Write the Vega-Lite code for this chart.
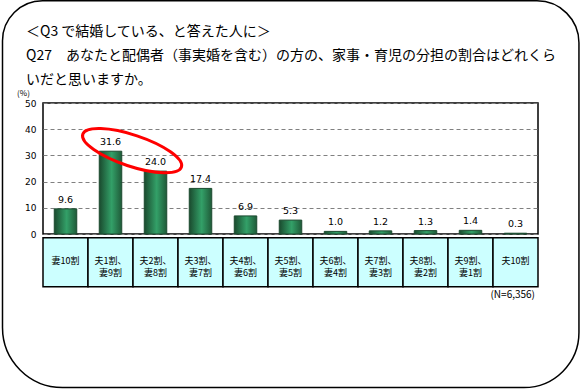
{
  "$schema": "https://vega.github.io/schema/vega-lite/v6.json",
  "width": 495,
  "height": 131,
  "padding": {"left": 1, "top": 0, "right": 2, "bottom": 2},
  "background": "white",
  "config": {
    "view": {"stroke": "black", "strokeWidth": 1.5},
    "font": "Noto Sans CJK JP"
  },
  "title": {
    "text": ["＜Q3 で結婚している、と答えた人に＞", "Q27　あなたと配偶者（事実婚を含む）の方の、家事・育児の分担の割合はどれくら", "いだと思いますか。"],
    "anchor": "start",
    "frame": "group",
    "dx": -17,
    "fontSize": 14,
    "fontWeight": "normal",
    "font": "Noto Sans CJK JP",
    "lineHeight": 24,
    "offset": -87,
    "color": "black"
  },
  "resolve": {"scale": {"x": "independent", "y": "independent"}},
  "layer": [
    {
      "data": {"values": [{}]},
      "mark": {"type": "rect", "filled": false, "stroke": "black", "strokeWidth": 1.5, "cornerRadiusTopLeft": 40, "cornerRadiusTopRight": 42, "cornerRadiusBottomLeft": 60, "cornerRadiusBottomRight": 55},
      "encoding": {
        "x": {"datum": -0.9, "type": "quantitative", "scale": {"domain": [0, 11], "nice": false, "zero": false}, "axis": null},
        "x2": {"datum": 11.91},
        "y": {"datum": 89, "type": "quantitative", "scale": {"domain": [0, 50], "nice": false, "zero": false}, "axis": null},
        "y2": {"datum": -58.6}
      }
    },
    {
      "data": {"values": [
        {"cat": "妻10割", "v": 9.6},
        {"cat": "夫1割、\n妻9割", "v": 31.6},
        {"cat": "夫2割、\n妻8割", "v": 24.0},
        {"cat": "夫3割、\n妻7割", "v": 17.4},
        {"cat": "夫4割、\n妻6割", "v": 6.9},
        {"cat": "夫5割、\n妻5割", "v": 5.3},
        {"cat": "夫6割、\n妻4割", "v": 1.0},
        {"cat": "夫7割、\n妻3割", "v": 1.2},
        {"cat": "夫8割、\n妻2割", "v": 1.3},
        {"cat": "夫9割、\n妻1割", "v": 1.4},
        {"cat": "夫10割", "v": 0.3}
      ]},
      "layer": [
        {
          "mark": {
            "type": "bar",
            "width": {"band": 0.5},
            "stroke": "#1b4a2f",
            "strokeWidth": 1,
            "color": {"gradient": "linear", "x1": 0, "x2": 1, "y1": 0, "y2": 0, "stops": [
              {"offset": 0, "color": "#1a4a2e"},
              {"offset": 0.55, "color": "#33a068"},
              {"offset": 1, "color": "#1f5a38"}
            ]}
          },
          "encoding": {
            "x": {"field": "cat", "type": "nominal", "sort": null, "scale": {"paddingInner": 0, "paddingOuter": 0}, "axis": null},
            "y": {
              "field": "v", "type": "quantitative",
              "scale": {"domain": [0, 50], "nice": false},
              "axis": {
                "title": "(%)", "titleAngle": 0, "titleX": -20, "titleY": -10, "titleAlign": "center", "titleBaseline": "middle",
                "titleFontSize": 8, "titleFontWeight": "normal", "titleColor": "black", "titleFont": "Noto Sans CJK JP",
                "values": [0, 10, 20, 30, 40, 50], "tickCount": 10, "labelOverlap": false, "ticks": false, "domain": false, "labelPadding": 7,
                "labelFontSize": 9, "labelColor": "black", "labelFont": "DejaVu Sans",
                "grid": true, "gridColor": "#808080", "gridDash": [4, 3], "gridWidth": 1
              }
            }
          }
        },
        {
          "mark": {"type": "text", "baseline": "bottom", "dy": -4, "fontSize": 9.5, "font": "DejaVu Sans", "color": "black"},
          "encoding": {
            "x": {"field": "cat", "type": "nominal", "sort": null, "axis": null},
            "y": {"field": "v", "type": "quantitative", "scale": {"domain": [0, 50], "nice": false}},
            "text": {"field": "v", "type": "quantitative", "format": ".1f"}
          }
        },
        {
          "mark": {"type": "rect", "fill": "#ccffff", "stroke": "black", "strokeWidth": 1.5},
          "encoding": {
            "x": {"field": "cat", "type": "nominal", "sort": null, "axis": null},
            "y": {"datum": -1.4, "type": "quantitative", "scale": {"domain": [0, 50], "nice": false}},
            "y2": {"datum": -20.1}
          }
        },
        {
          "mark": {"type": "text", "lineBreak": "\n", "fontSize": 9, "lineHeight": 12, "baseline": "middle", "color": "black"},
          "encoding": {
            "x": {"field": "cat", "type": "nominal", "sort": null, "axis": null},
            "y": {"datum": -10.4, "type": "quantitative", "scale": {"domain": [0, 50], "nice": false}},
            "text": {"field": "cat"}
          }
        },
        {
          "transform": [{"filter": "datum.cat === '夫10割'"}],
          "mark": {"type": "text", "align": "right", "baseline": "middle", "dx": -3, "fontSize": 10, "color": "black"},
          "encoding": {
            "x": {"field": "cat", "type": "nominal", "sort": null, "bandPosition": 1, "axis": null},
            "y": {"datum": -23.3, "type": "quantitative", "scale": {"domain": [0, 50], "nice": false}},
            "text": {"value": "(N=6,356)"}
          }
        },
        {
          "transform": [{"filter": "datum.cat === '夫1割、\\n妻9割'"}],
          "mark": {"type": "point", "shape": "M -1 0 A 1 0.3 0 1 1 1 0 A 1 0.3 0 1 1 -1 0 Z", "size": 10816, "angle": 18.4, "filled": false, "stroke": "#ff0000", "strokeWidth": 3, "opacity": 1},
          "encoding": {
            "x": {"field": "cat", "type": "nominal", "sort": null, "bandPosition": 0.98, "axis": null},
            "y": {"datum": 31.8, "type": "quantitative", "scale": {"domain": [0, 50], "nice": false}}
          }
        }
      ]
    }
  ]
}
